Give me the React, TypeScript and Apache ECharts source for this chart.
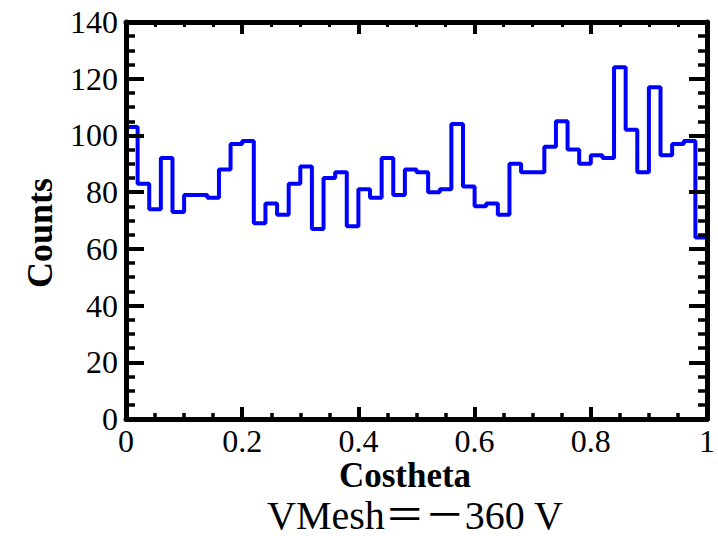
import React, { useEffect, useRef } from "react";
import * as echarts from "echarts";

// Histogram of cos(theta), 50 bins from 0 to 1
const binEdgesStart = 0;
const binWidth = 0.02;
const counts = [
  103, 83, 74, 92, 73, 79, 79, 78, 88, 97,
  98, 69, 76, 72, 83, 89, 67, 85, 87, 68,
  81, 78, 92, 79, 88, 87, 80, 81, 104, 82,
  75, 76, 72, 90, 87, 87, 96, 105, 95, 90,
  93, 92, 124, 102, 87, 117, 93, 97, 98, 64,
];
const xTickLabels = ["0", "0.2", "0.4", "0.6", "0.8", "1"];
const yTickLabels = ["0", "20", "40", "60", "80", "100", "120", "140"];
const xTitle = "Costheta";
const yTitle = "Counts";
const caption = "VMesh＝－360 V";

export default function App() {
  const ref = useRef<HTMLDivElement>(null);
  useEffect(() => {
    if (!ref.current) return;
    const chart = echarts.init(ref.current, undefined, { renderer: "svg" });
    const pts: [number, number][] = [[binEdgesStart, 0]];
    counts.forEach((c, i) => {
      const x0 = +(binEdgesStart + i * binWidth).toFixed(4);
      const x1 = +(binEdgesStart + (i + 1) * binWidth).toFixed(4);
      pts.push([x0, c]);
      pts.push([x1, c]);
    });
    pts.push([+(binEdgesStart + counts.length * binWidth).toFixed(4), 0]);

    const font = "'Liberation Serif', 'Times New Roman', serif";
    const mkLine = () => ({ show: true, onZero: false, lineStyle: { color: "#000000", width: 5, opacity: 1 } });
    const tick = (len: number, w: number) => ({ show: true, inside: true, length: len, lineStyle: { color: "#000000", width: w, opacity: 1 } });
    const minor = (len: number, w: number) => ({ show: true, splitNumber: 4, length: len, lineStyle: { color: "#000000", width: w, opacity: 1 } });
    const xMap = (v: number) => {
      const s = String(+v.toFixed(2));
      return xTickLabels.includes(s) ? s : "";
    };
    const yMap = (v: number) => {
      const s = String(Math.round(v));
      return yTickLabels.includes(s) ? s : "";
    };
    chart.setOption({
      animation: false,
      backgroundColor: "#fff",
      grid: { left: 126, right: 10, top: 22, bottom: 117, containLabel: false },
      xAxis: [
        {
          type: "value", min: 0, max: 1, interval: 0.2, position: "bottom", z: 5,
          axisLine: mkLine(),
          axisTick: tick(12, 4),
          minorTick: minor(6, 3.5),
          splitLine: { show: false },
          axisLabel: { show: true, margin: 10, lineHeight: 24, color: "#000", fontFamily: font, fontSize: 32, formatter: xMap },
        },
        {
          type: "value", min: 0, max: 1, interval: 0.2, position: "top", z: 5,
          axisLine: mkLine(),
          axisTick: tick(12, 4),
          minorTick: minor(5, 3),
          splitLine: { show: false },
          axisLabel: { show: false },
        },
      ],
      yAxis: [
        {
          type: "value", min: 0, max: 140, interval: 20, position: "left", z: 5,
          axisLine: mkLine(),
          axisTick: tick(18, 4),
          minorTick: minor(9, 3.5),
          splitLine: { show: false },
          axisLabel: { show: true, margin: 8, color: "#000", fontFamily: font, fontSize: 32, formatter: yMap },
        },
        {
          type: "value", min: 0, max: 140, interval: 20, position: "right", z: 5,
          axisLine: mkLine(),
          axisTick: tick(18, 4),
          minorTick: minor(9, 3.5),
          splitLine: { show: false },
          axisLabel: { show: false },
        },
      ],
      series: [
        {
          type: "line",
          xAxisIndex: 0,
          yAxisIndex: 0,
          data: pts,
          showSymbol: false,
          symbol: "none",
          clip: false,
          lineStyle: { color: "#0000ff", width: 4 },
          z: 2,
        },
      ],
      graphic: [
        {
          type: "text", x: 40, y: 233, rotation: Math.PI / 2,
          style: { text: yTitle, font: `bold 36px ${font}`, fill: "#000", align: "center", verticalAlign: "middle", lineHeight: 28 },
        },
        {
          type: "text", x: 405, y: 475,
          style: { text: xTitle, font: `bold 35px ${font}`, fill: "#000", align: "center", verticalAlign: "middle", lineHeight: 28 },
        },
        {
          type: "text", x: 415, y: 515,
          style: { text: caption, font: `40px 'Liberation Serif', 'Noto Sans CJK SC', serif`, fill: "#000", align: "center", verticalAlign: "middle", lineHeight: 32 },
        },
      ],
    });
    return () => chart.dispose();
  }, []);
  return <div ref={ref} style={{ position: "fixed", left: 0, top: 0, width: 718, height: 536 }} />;
}
